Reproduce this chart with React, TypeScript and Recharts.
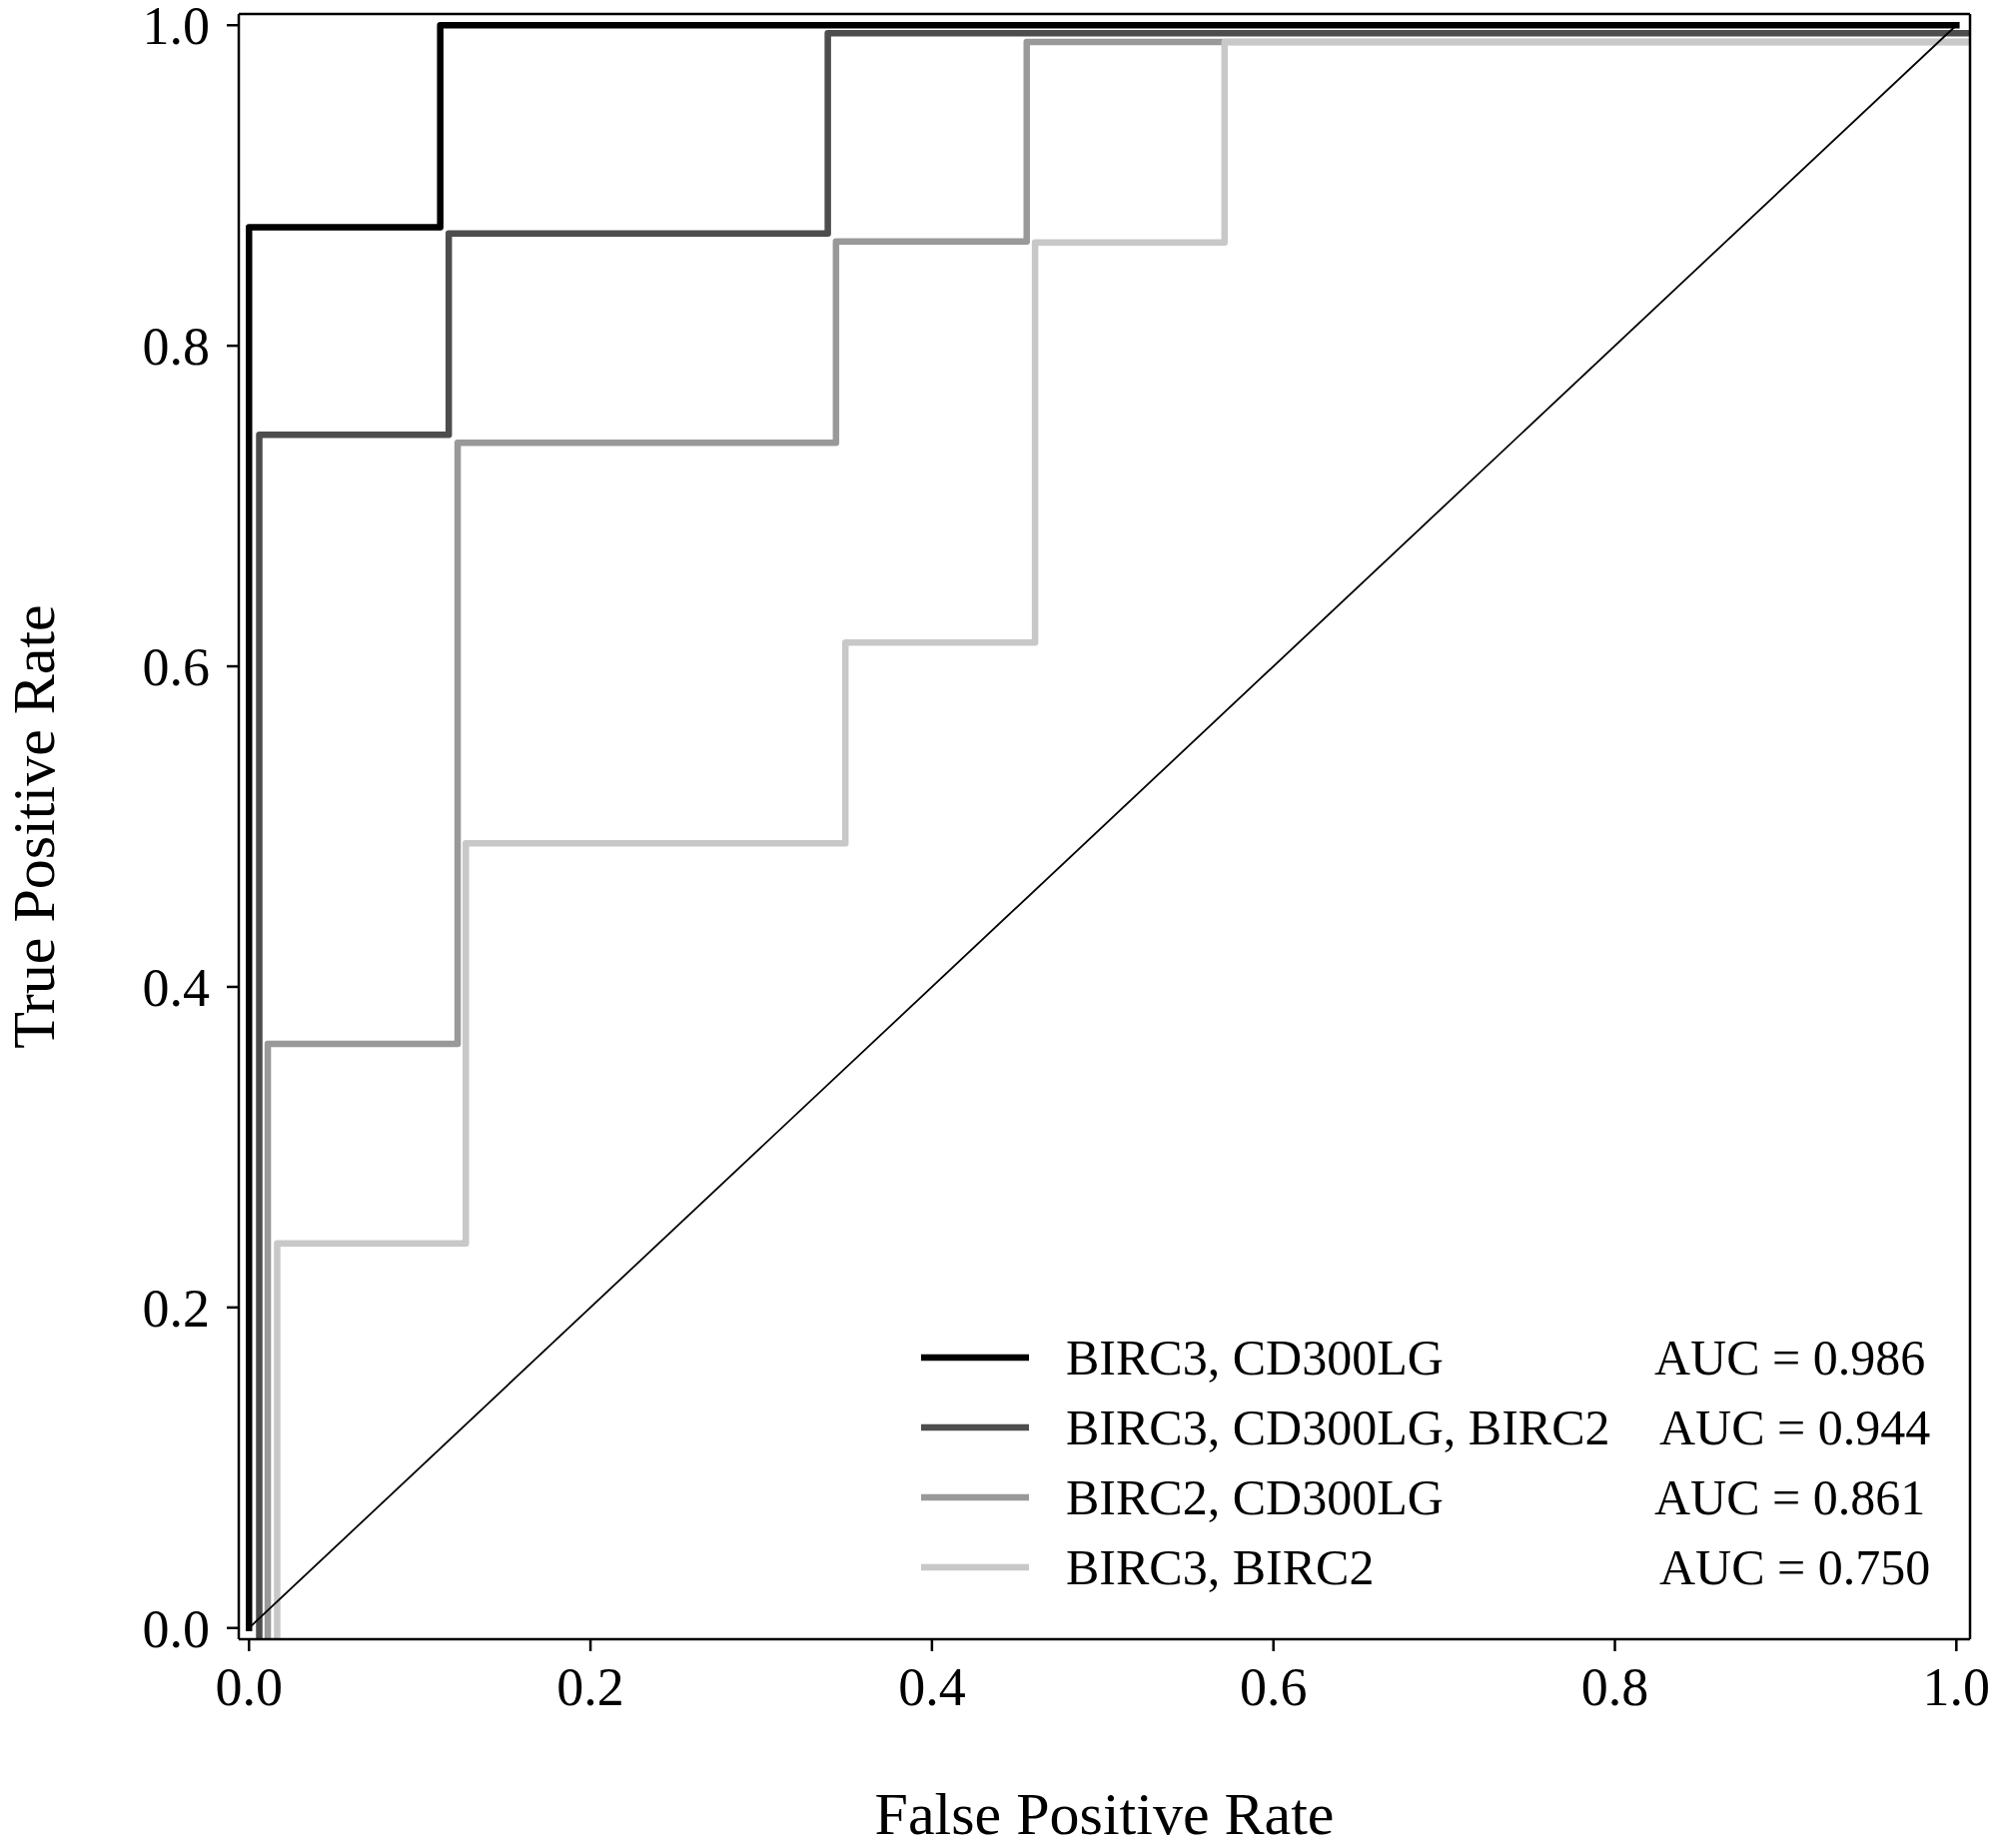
import React from 'react';
import { LineChart, Line, XAxis, YAxis, Legend, Label } from 'recharts';

// ---- data ----
const seriesNames = ['BIRC3, CD300LG', 'BIRC3, CD300LG, BIRC2', 'BIRC2, CD300LG', 'BIRC3, BIRC2'];
const aucLabels = ['AUC = 0.986', 'AUC = 0.944', 'AUC = 0.861', 'AUC = 0.750'];
const seriesColors = ['#000000', '#4d4d4d', '#999999', '#c8c8c8'];

const fpr1 = [0, 0, 0.112, 0.112, 1.0];
const tpr1 = [0, 0.874, 0.874, 1.0, 1.0];

const fpr2 = [0.006, 0.006, 0.117, 0.117, 0.339, 0.339, 1.008];
const tpr2 = [-0.007, 0.7445, 0.7445, 0.87, 0.87, 0.995, 0.995];

const fpr3 = [0.011, 0.011, 0.1222, 0.1222, 0.3438, 0.3438, 0.4555, 0.4555, 1.008];
const tpr3 = [-0.007, 0.3645, 0.3645, 0.7395, 0.7395, 0.865, 0.865, 0.9896, 0.9896];

const fpr4 = [0.0165, 0.0165, 0.127, 0.127, 0.3493, 0.3493, 0.4604, 0.4604, 0.5714, 0.5714, 1.008];
const tpr4 = [-0.007, 0.24, 0.24, 0.4895, 0.4895, 0.6148, 0.6148, 0.8645, 0.8645, 0.9896, 0.9896];

const chanceFpr = [0, 1];
const chanceTpr = [0, 1];

const axisTicks = [0, 0.2, 0.4, 0.6, 0.8, 1.0];
const xDomain = [-0.006, 1.008];
const yDomain = [-0.007, 1.007];

const xLabelText = 'False Positive Rate';
const yLabelText = 'True Positive Rate';

const zip = (xs: number[], ys: number[]) => xs.map((x, i) => ({ fpr: x, tpr: ys[i] }));
const curves = [zip(fpr1, tpr1), zip(fpr2, tpr2), zip(fpr3, tpr3), zip(fpr4, tpr4)];
const chance = zip(chanceFpr, chanceTpr);

const FONT = '"Liberation Serif", "Times New Roman", Times, serif';
const W = 2000;
const H = 1850;

const aucOffsets = [0, 5, 0, 5];

const renderLegend = () => (
  <svg width={1080} height={300} style={{ display: 'block', overflow: 'visible' }}>
    {seriesNames.map((name, i) => {
      const cy = 49 + i * 70;
      return (
        <g key={name}>
          <line x1={22} x2={130} y1={cy} y2={cy} stroke={seriesColors[i]} strokeWidth={6.5} />
          <text x={167} y={cy + 17} fontFamily={FONT} fontSize={50} fill="#000">
            {name}
          </text>
          <text x={756 + aucOffsets[i]} y={cy + 17} fontFamily={FONT} fontSize={50} fill="#000">
            {aucLabels[i]}
          </text>
        </g>
      );
    })}
  </svg>
);

const XLabel = (props: any) => {
  const vb = props.viewBox || { x: 239, y: 1641, width: 1734, height: 200 };
  return (
    <text
      x={vb.x + vb.width / 2}
      y={1836}
      textAnchor="middle"
      fontFamily={FONT}
      fontSize={60}
      fill="#000"
    >
      {xLabelText}
    </text>
  );
};

const YLabel = (props: any) => {
  const vb = props.viewBox || { x: 39, y: 13, width: 200, height: 1628 };
  const cx = 54;
  const cy = vb.y + vb.height / 2;
  return (
    <text
      x={cx}
      y={cy}
      transform={`rotate(-90, ${cx}, ${cy})`}
      textAnchor="middle"
      fontFamily={FONT}
      fontSize={60}
      fill="#000"
    >
      {yLabelText}
    </text>
  );
};

const tickStyle = { fill: '#000', fontSize: 54, fontFamily: FONT };
const axisLineStyle = { stroke: '#000', strokeWidth: 2.5 };

export default function App() {
  return (
    <div style={{ position: 'absolute', left: 0, top: 0, width: W, height: H, background: '#fff' }}>
      <LineChart width={W} height={H} margin={{ top: 13, right: 27, bottom: 9, left: 39 }}>
        <XAxis
          xAxisId="bottom"
          type="number"
          dataKey="fpr"
          domain={xDomain}
          ticks={axisTicks}
          interval={0}
          allowDataOverflow
          tickFormatter={(v: number) => v.toFixed(1)}
          tick={tickStyle}
          tickLine={axisLineStyle}
          axisLine={axisLineStyle}
          tickSize={12}
          tickMargin={16}
          height={200}
        >
          <Label content={<XLabel />} />
        </XAxis>
        <XAxis
          xAxisId="top"
          orientation="top"
          type="number"
          dataKey="fpr"
          domain={xDomain}
          ticks={axisTicks}
          allowDataOverflow
          tick={false}
          tickLine={false}
          axisLine={axisLineStyle}
          height={1}
        />
        <YAxis
          yAxisId="left"
          type="number"
          domain={yDomain}
          ticks={axisTicks}
          interval={0}
          allowDataOverflow
          tickFormatter={(v: number) => v.toFixed(1)}
          tick={tickStyle}
          tickLine={axisLineStyle}
          axisLine={axisLineStyle}
          tickSize={12}
          tickMargin={17}
          width={200}
        >
          <Label content={<YLabel />} />
        </YAxis>
        <YAxis
          yAxisId="right"
          orientation="right"
          type="number"
          domain={yDomain}
          ticks={axisTicks}
          allowDataOverflow
          tick={false}
          tickLine={false}
          axisLine={axisLineStyle}
          width={1}
        />
        {curves.map((d, i) => (
          <Line
            key={seriesNames[i]}
            xAxisId="bottom"
            yAxisId="left"
            data={d}
            dataKey="tpr"
            name={seriesNames[i]}
            type="linear"
            stroke={seriesColors[i]}
            strokeWidth={6.5}
            strokeLinecap="square"
            strokeLinejoin="round"
            dot={false}
            activeDot={false}
            isAnimationActive={false}
          />
        ))}
        <Line
          xAxisId="top"
          yAxisId="right"
          data={chance}
          dataKey="tpr"
          name="chance"
          type="linear"
          stroke="#000"
          strokeWidth={1.8}
          dot={false}
          activeDot={false}
          legendType="none"
          isAnimationActive={false}
        />
        <Legend
          layout="horizontal"
          verticalAlign="middle"
          align="center"
          content={renderLegend}
          wrapperStyle={{ position: 'absolute', left: 900, top: 1310, width: 1080, height: 300 }}
        />
      </LineChart>
    </div>
  );
}
